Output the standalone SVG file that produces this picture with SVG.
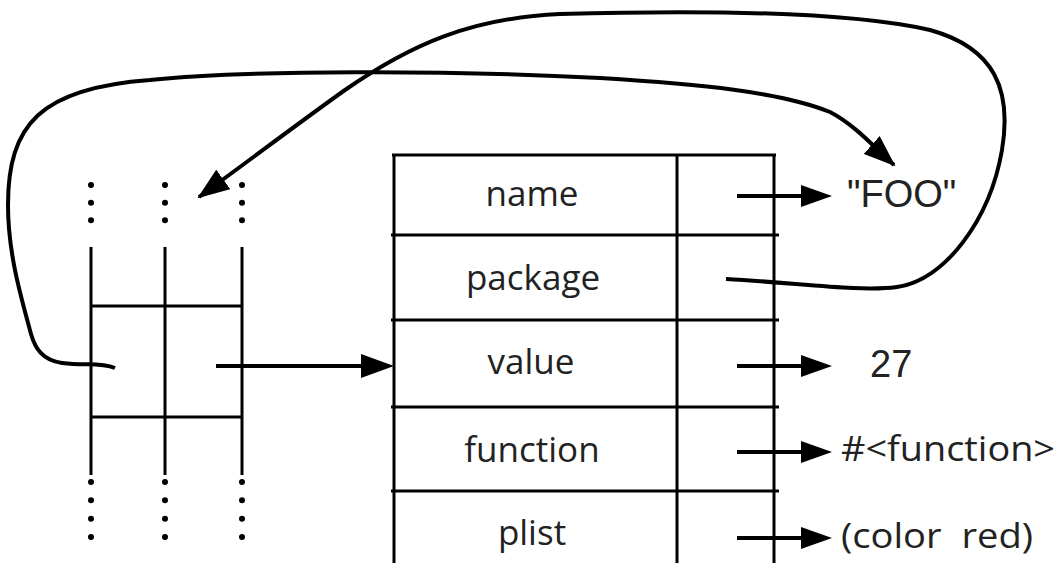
<svg xmlns="http://www.w3.org/2000/svg" width="1058" height="563" viewBox="0 0 1058 563">
<style>
.ln{stroke:#000;stroke-width:3;fill:none}
.dots{stroke:#000;stroke-width:6;stroke-linecap:round;fill:none}
.cn{stroke:#000;stroke-width:4;fill:none}
.hd{fill:#000;stroke:none}
.lbl{font-family:"Open Sans","Noto Sans",sans-serif;font-size:35px;fill:#222}
.val{font-family:"Liberation Sans",Arial,sans-serif;font-size:38px;fill:#222}
</style>
<defs>
<marker id="ah" viewBox="0 0 32 24" refX="30" refY="12" markerWidth="32" markerHeight="24" markerUnits="userSpaceOnUse" orient="auto">
<path d="M0,0 L32,12 L0,24 Z" fill="#000"/>
</marker>
</defs>
<rect width="1058" height="563" fill="#fff"/>

<g id="array">
<line class="ln" x1="91" y1="247" x2="91" y2="475"/>
<line class="ln" x1="165" y1="247" x2="165" y2="475"/>
<line class="ln" x1="242" y1="247" x2="242" y2="475"/>
<line class="ln" x1="91" y1="306" x2="242" y2="306"/>
<line class="ln" x1="91" y1="417" x2="242" y2="417"/>
<path class="dots" stroke-dasharray="0 17.67" d="M91,185 V238 M165,185 V238 M242,185 V238"/>
<path class="dots" stroke-dasharray="0 18.33" d="M91,482 V537 M165,482 V537 M242,482 V537"/>
</g>

<g id="symbol">
<line class="ln" x1="392" y1="155" x2="776" y2="155"/>
<line class="ln" x1="394" y1="154" x2="394" y2="563"/>
<line class="ln" x1="677" y1="154" x2="677" y2="563"/>
<line class="ln" x1="774" y1="154" x2="774" y2="563"/>
<line class="ln" x1="391" y1="235" x2="779" y2="235"/>
<line class="ln" x1="391" y1="320" x2="779" y2="320"/>
<line class="ln" x1="391" y1="407" x2="779" y2="407"/>
<line class="ln" x1="391" y1="491" x2="779" y2="491"/>
<text class="lbl" x="532" y="206" text-anchor="middle">name</text>
<text class="lbl" x="533" y="290" text-anchor="middle">package</text>
<text class="lbl" x="531" y="374" text-anchor="middle">value</text>
<text class="lbl" x="532" y="462" text-anchor="middle">function</text>
<text class="lbl" x="532" y="545" text-anchor="middle">plist</text>
</g>

<g id="foo"><text class="val" x="847" y="207">"FOO"</text></g>
<g id="v27"><text class="val" x="870" y="377" font-size="36">27</text></g>
<g id="fn"><text class="lbl" x="841" y="461" font-size="38" textLength="214" lengthAdjust="spacingAndGlyphs">#&lt;function&gt;</text></g>
<g id="plistval"><text class="lbl" x="841" y="548" font-size="39" word-spacing="9" textLength="192" lengthAdjust="spacingAndGlyphs">(color red)</text></g>

<g id="connectors">
<line class="cn" x1="737" y1="196" x2="803" y2="196"/>
<polygon class="hd" points="801,185 832,196 801,207"/>
<line class="cn" x1="737" y1="366" x2="803" y2="366"/>
<polygon class="hd" points="801,355 832,366 801,377"/>
<line class="cn" x1="737" y1="452" x2="803" y2="452"/>
<polygon class="hd" points="801,441 832,452 801,463"/>
<line class="cn" x1="737" y1="538" x2="803" y2="538"/>
<polygon class="hd" points="801,527 832,538 801,549"/>
<line class="cn" x1="216" y1="366" x2="363" y2="366"/>
<polygon class="hd" points="361,354 394,366 361,378"/>
<path class="cn" stroke-width="3.5" marker-end="url(#ah)" d="M115,368 C100,362 85,366 62,363 C42,360 35,348 31,334 C22,300 8,255 8,205 C8,125 40,88 150,80 C250,70 450,70 600,78 C700,84 780,92 830,112 C855,125 875,148 894,165"/>
<path class="cn" stroke-width="3.5" marker-end="url(#ah)" d="M726,279 C800,283 860,292 897,287 C945,280 990,220 1002,150 C1012,90 995,48 930,30 C850,12 700,10 560,14 C470,18 410,45 345,90 C300,122 250,160 199,197"/>
</g>
</svg>
